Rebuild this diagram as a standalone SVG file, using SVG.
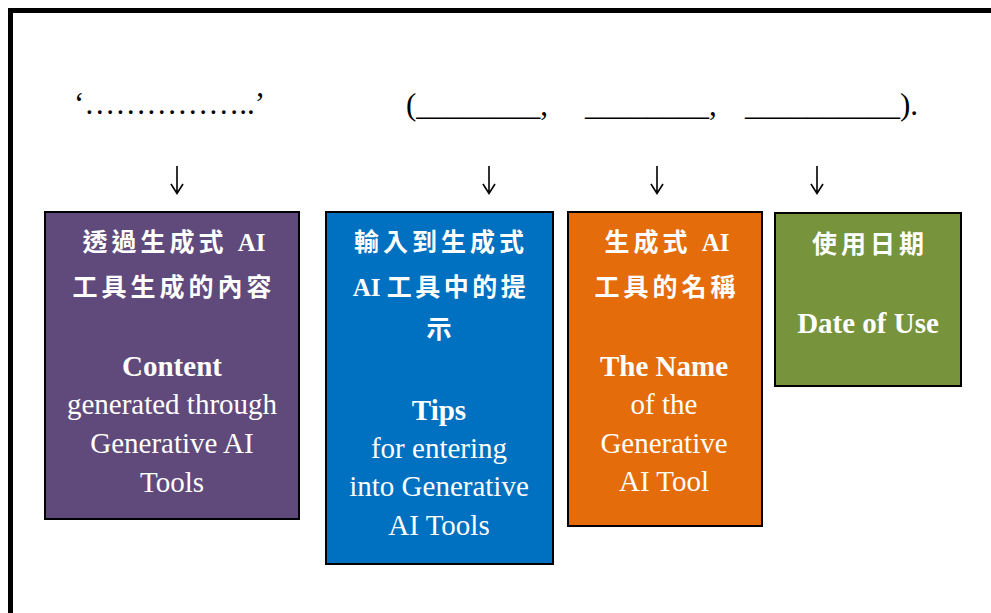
<svg xmlns="http://www.w3.org/2000/svg" width="991" height="613" viewBox="0 0 991 613">
<style>
.frame{fill:none;stroke:#000;stroke-width:5}
.box{stroke:#000;stroke-width:2}
.t{font-family:"Liberation Serif","Times New Roman",serif;fill:#000;font-size:31px}
.arr{fill:none;stroke:#000;stroke-width:1.6}
.cjk{font-family:"Liberation Serif","Noto Sans CJK TC",serif;font-weight:bold;font-size:25px;fill:#fff;text-anchor:middle;letter-spacing:4px}
.b{font-family:"Liberation Serif","Times New Roman",serif;font-weight:bold;font-size:29px;fill:#fff;text-anchor:middle}
.r{font-family:"Liberation Serif","Times New Roman",serif;font-size:29px;fill:#fff;text-anchor:middle}
</style>
<defs>
<path id="down" d="M0,166 V193 M-6,184 L0,193.5 L6,184"/>
</defs>
<rect class="frame" x="10.5" y="10.5" width="1000" height="620"/>
<g id="template">
<text class="t" x="74" y="114">‘……………..’</text>
<text class="t" y="115"><tspan x="406">(________,</tspan><tspan x="585">________,</tspan><tspan x="745">__________).</tspan></text>
</g>
<g id="connectors" class="arr">
<use href="#down" x="177"/>
<use href="#down" x="489"/>
<use href="#down" x="657"/>
<use href="#down" x="817"/>
</g>
<g id="content">
<rect class="box" x="45" y="212" width="254" height="307" fill="#604A7B"/>
<text class="cjk" x="174" y="251">透過生成式 <tspan style="letter-spacing:0">AI</tspan></text>
<text class="cjk" x="174" y="296">工具生成的內容</text>
<text class="b" x="172" y="376">Content</text>
<text class="r" x="172" y="414">generated through</text>
<text class="r" x="172" y="453">Generative AI</text>
<text class="r" x="172" y="492">Tools</text>
</g>
<g id="tips">
<rect class="box" x="326" y="212" width="227" height="352" fill="#0070C0"/>
<text class="cjk" x="441" y="251">輸入到生成式</text>
<text class="cjk" x="441" y="296" style="letter-spacing:0">AI <tspan style="letter-spacing:3.5px">工具中的提</tspan></text>
<text class="cjk" x="441" y="338">示</text>
<text class="b" x="439" y="420">Tips</text>
<text class="r" x="439" y="458">for entering</text>
<text class="r" x="439" y="496">into Generative</text>
<text class="r" x="439" y="535">AI Tools</text>
</g>
<g id="toolname">
<rect class="box" x="568" y="212" width="194" height="314" fill="#E46C0A"/>
<text class="cjk" x="667" y="251">生成式 <tspan style="letter-spacing:0">AI</tspan></text>
<text class="cjk" x="667" y="296">工具的名稱</text>
<text class="b" x="664" y="376">The Name</text>
<text class="r" x="664" y="414">of the</text>
<text class="r" x="664" y="453">Generative</text>
<text class="r" x="664" y="491">AI Tool</text>
</g>
<g id="date">
<rect class="box" x="775" y="213" width="186" height="173" fill="#77933C"/>
<text class="cjk" x="870" y="253">使用日期</text>
<text class="b" x="868" y="333">Date of Use</text>
</g>
</svg>
